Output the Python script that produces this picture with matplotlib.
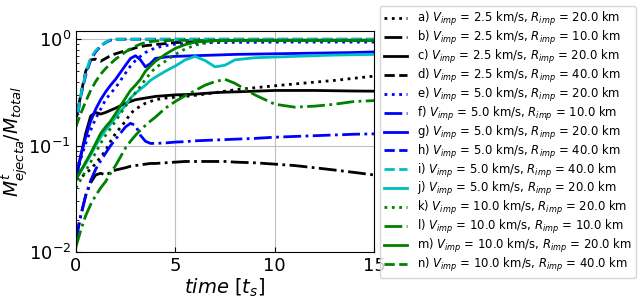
import matplotlib
matplotlib.use('Agg')
import matplotlib.pyplot as pl

# time in units of t_s
t = [0, 0.25, 0.5, 0.75, 1, 1.25, 1.5, 1.75, 2, 2.5, 2.75, 3, 3.25, 3.5, 3.75, 4,
     4.5, 5, 5.5, 6, 6.5, 7, 7.5, 8, 9, 10, 11, 12, 13, 14, 15]

# ejecta mass fraction for each run
a = [0.048, 0.05, 0.055, 0.06, 0.068, 0.078, 0.09, 0.11, 0.13, 0.17, 0.2, 0.22, 0.235, 0.25, 0.26, 0.27,
     0.28, 0.285, 0.29, 0.297, 0.305, 0.315, 0.325, 0.335, 0.35, 0.365, 0.38, 0.395, 0.41, 0.43, 0.45]
b = [0.013, 0.022, 0.034, 0.045, 0.053, 0.055, 0.053, 0.056, 0.059, 0.062, 0.064, 0.065, 0.066, 0.067, 0.068, 0.068,
     0.069, 0.07, 0.071, 0.071, 0.071, 0.071, 0.071, 0.07, 0.069, 0.067, 0.065, 0.062, 0.059, 0.056, 0.053]
c = [0.048, 0.08, 0.13, 0.19, 0.205, 0.198, 0.205, 0.215, 0.225, 0.25, 0.26, 0.27, 0.275, 0.28, 0.285, 0.29,
     0.295, 0.3, 0.302, 0.305, 0.31, 0.315, 0.318, 0.32, 0.325, 0.33, 0.33, 0.33, 0.328, 0.326, 0.325]
d = [0.17, 0.3, 0.5, 0.64, 0.65, 0.62, 0.66, 0.7, 0.73, 0.78, 0.8, 0.83, 0.85, 0.87, 0.88, 0.89,
     0.91, 0.93, 0.94, 0.95, 0.96, 0.97, 0.97, 0.975, 0.98, 0.98, 0.98, 0.98, 0.98, 0.98, 0.98]
e = [0.048, 0.075, 0.105, 0.14, 0.18, 0.22, 0.27, 0.31, 0.35, 0.48, 0.56, 0.63, 0.69, 0.75, 0.79, 0.83,
     0.87, 0.9, 0.91, 0.92, 0.925, 0.93, 0.93, 0.935, 0.935, 0.94, 0.94, 0.94, 0.94, 0.94, 0.94]
f = [0.013, 0.022, 0.034, 0.047, 0.06, 0.072, 0.085, 0.1, 0.115, 0.15, 0.162, 0.155, 0.125, 0.11, 0.105, 0.105,
     0.106, 0.108, 0.109, 0.111, 0.112, 0.113, 0.114, 0.115, 0.117, 0.12, 0.122, 0.124, 0.126, 0.128, 0.129]
g = [0.048, 0.08, 0.12, 0.17, 0.22, 0.27, 0.32, 0.37, 0.42, 0.57, 0.66, 0.7, 0.64, 0.55, 0.59, 0.66,
     0.68, 0.69, 0.695, 0.7, 0.705, 0.71, 0.715, 0.72, 0.725, 0.73, 0.735, 0.74, 0.745, 0.75, 0.76]
h = [0.15, 0.29, 0.46, 0.64, 0.76, 0.86, 0.93, 0.98, 1.0, 1.0, 1.0, 1.0, 1.0, 1.0, 1.0, 1.0,
     1.0, 1.0, 1.0, 1.0, 1.0, 1.0, 1.0, 1.0, 1.0, 1.0, 1.0, 1.0, 1.0, 1.0, 1.0]
i = [0.15, 0.3, 0.48, 0.67, 0.78, 0.87, 0.94, 0.99, 1.0, 1.0, 1.0, 1.0, 1.0, 1.0, 1.0, 1.0,
     1.0, 1.0, 1.0, 1.0, 1.0, 1.0, 1.0, 1.0, 1.0, 1.0, 1.0, 1.0, 1.0, 1.0, 1.0]
j = [0.048, 0.057, 0.068, 0.082, 0.1, 0.12, 0.14, 0.16, 0.185, 0.24, 0.28, 0.31, 0.34, 0.37, 0.41, 0.44,
     0.5, 0.56, 0.64, 0.69, 0.63, 0.55, 0.57, 0.64, 0.67, 0.68, 0.69, 0.7, 0.71, 0.715, 0.72]
k = [0.04, 0.048, 0.058, 0.07, 0.086, 0.105, 0.125, 0.145, 0.17, 0.235, 0.275, 0.315, 0.36, 0.42, 0.48, 0.54,
     0.62, 0.72, 0.81, 0.88, 0.92, 0.95, 0.96, 0.965, 0.97, 0.97, 0.97, 0.97, 0.97, 0.97, 0.97]
l = [0.011, 0.016, 0.022, 0.028, 0.034, 0.04, 0.046, 0.055, 0.065, 0.095, 0.11, 0.125, 0.14, 0.155, 0.17, 0.185,
     0.225, 0.26, 0.295, 0.33, 0.37, 0.4, 0.42, 0.385, 0.3, 0.245, 0.23, 0.235, 0.245, 0.26, 0.265]
m = [0.048, 0.058, 0.07, 0.085, 0.105, 0.13, 0.15, 0.17, 0.2, 0.28, 0.33, 0.37, 0.42, 0.5, 0.56, 0.62,
     0.72, 0.82, 0.89, 0.94, 0.96, 0.97, 0.97, 0.97, 0.97, 0.97, 0.97, 0.97, 0.97, 0.97, 0.97]
n = [0.15, 0.2, 0.26, 0.33, 0.4, 0.47, 0.53, 0.59, 0.65, 0.76, 0.81, 0.86, 0.9, 0.93, 0.95, 0.96,
     0.97, 0.975, 0.975, 0.975, 0.975, 0.975, 0.975, 0.975, 0.975, 0.975, 0.975, 0.975, 0.975, 0.975, 0.975]

runs = [
    ('a', 2.5, 20.0, a), ('b', 2.5, 10.0, b), ('c', 2.5, 20.0, c), ('d', 2.5, 40.0, d),
    ('e', 5.0, 20.0, e), ('f', 5.0, 10.0, f), ('g', 5.0, 20.0, g), ('h', 5.0, 40.0, h),
    ('i', 5.0, 40.0, i), ('j', 5.0, 20.0, j),
    ('k', 10.0, 20.0, k), ('l', 10.0, 10.0, l), ('m', 10.0, 20.0, m), ('n', 10.0, 40.0, n),
]
colors = ['k', 'k', 'k', 'k', 'b', 'b', 'b', 'b', 'c', 'c', 'g', 'g', 'g', 'g']
styles = [':', '-.', '-', '--', ':', '-.', '-', '--', '--', '-', ':', '-.', '-', '--']


def main():
    fig = pl.figure(figsize=(6.42, 2.99), dpi=100)
    ax = fig.add_axes([0.118, 0.157, 0.465, 0.74])
    for (tag, v, r, y), col, ls in zip(runs, colors, styles):
        label = r'%s) $V_{imp}$ = %.1f km/s, $R_{imp}$ = %.1f km' % (tag, v, r)
        ax.plot(t, y, color=col, ls=ls, lw=2, label=label)

    ax.set_yscale('log')
    ax.set_xlim(0, 15)
    ax.set_ylim(0.01, 1.2)
    ax.set_xticks([0, 5, 10, 15])
    ax.grid(True, which='major', color='0.75', lw=0.8)
    ax.tick_params(which='both', direction='in', labelsize=13)
    ax.set_xlabel(r'$time\ [t_s]$', fontsize=14, labelpad=1)
    ax.set_ylabel(r'$M^t_{ejecta}/M_{total}$', fontsize=13.5)
    ax.yaxis.set_label_coords(-0.152, 0.5)

    fig.legend(loc='upper left', bbox_to_anchor=(380 / 642, 1 - 6 / 299),
               borderaxespad=0, fontsize=8.4, labelspacing=0.08, borderpad=0.35)
    fig.savefig('out.png', dpi=100)


if __name__ == '__main__':
    main()
